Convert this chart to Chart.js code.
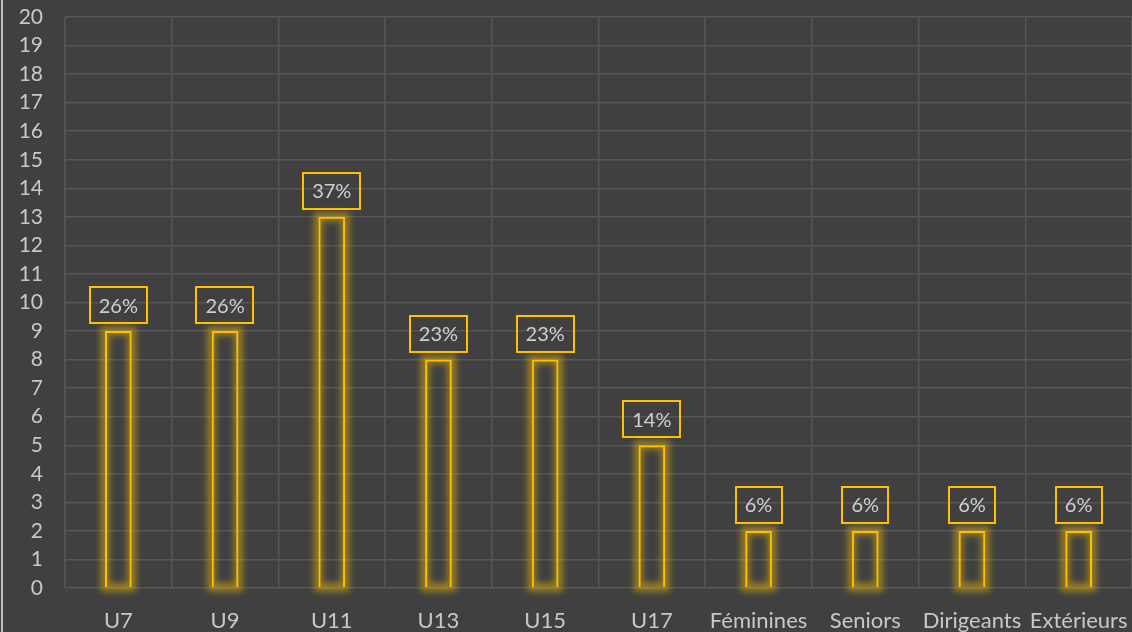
<!DOCTYPE html>
<html><head><meta charset="utf-8">
<script src="https://cdn.jsdelivr.net/npm/chart.js@4.4.0/dist/chart.umd.min.js"></script>
<style>
html,body{margin:0;padding:0;background:#404040;}
#wrap{position:relative;width:1132px;height:632px;}
#wrap:before{content:"";position:absolute;left:1px;top:0;width:2px;height:632px;background:#bfbfbf;}
canvas{display:block;}
</style></head>
<body><div id="wrap"><canvas id="c" width="1132" height="632"></canvas></div>
<script>
const categories = ["U7","U9","U11","U13","U15","U17","Féminines","Seniors","Dirigeants","Extérieurs"];
const counts = [9,9,13,8,8,5,2,2,2,2];
const percentLabels = ["26%","26%","37%","23%","23%","14%","6%","6%","6%","6%"];
const FONT = "Lato";
const YELLOW = "#FFC000";

const glowPlugin = {
  id:'glow',
  beforeDatasetDraw(chart){
    const ctx=chart.ctx; const meta=chart.getDatasetMeta(0);
    ctx.save();
    ctx.filter='blur(3px)';
    ctx.strokeStyle='rgba(255,200,0,0.45)';
    ctx.lineWidth=9;
    meta.data.forEach(bar=>{
      const w=bar.width, left=bar.x-w/2, top=bar.y, h=bar.base-bar.y;
      ctx.strokeRect(left, top, w, h);
    });
    ctx.restore();
  }
};
const labelPlugin = {
  id:'boxLabels',
  afterDatasetsDraw(chart){
    const ctx=chart.ctx; const meta=chart.getDatasetMeta(0);
    ctx.save();
    ctx.font = "20px " + FONT;
    ctx.textAlign='center'; ctx.textBaseline='middle';
    meta.data.forEach((bar,i)=>{
      const txt=percentLabels[i];
      const w = ctx.measureText(txt).width + 18;
      const h = 36;
      const cx = bar.x, bottom = bar.y - 8;
      ctx.strokeStyle=YELLOW; ctx.lineWidth=2;
      ctx.strokeRect(Math.round(cx - w/2), Math.round(bottom-h), Math.round(w), h);
      ctx.fillStyle='#d0d0d0';
      ctx.fillText(txt, cx, bottom - h/2 + 1);
    });
    ctx.restore();
  }
};

new Chart(document.getElementById('c'), {
  type:'bar',
  data:{ labels:categories, datasets:[{ data:counts, backgroundColor:'rgba(0,0,0,0)', borderColor:YELLOW, borderWidth:2, categoryPercentage:1, barPercentage:0.25 }]},
  options:{
    responsive:false, animation:false, devicePixelRatio:1,
    layout:{ padding:{ top:17, right:0, left:0, bottom:0 } },
    plugins:{ legend:{display:false}, tooltip:{enabled:false} },
    scales:{
      x:{ grid:{ color:'#575757', lineWidth:1.5, drawTicks:false, offset:true }, border:{display:false},
          ticks:{ color:'#c8c8c8', font:{family:FONT, size:22}, padding:20, maxRotation:0, autoSkip:false },
          afterFit(s){ s.height = 44; s.paddingLeft=0; s.paddingRight=0; } },
      y:{ min:0, max:20, grid:{ color:'#575757', lineWidth:1.5, drawTicks:false }, border:{display:false},
          ticks:{ stepSize:1, color:'#c8c8c8', font:{family:FONT, size:21}, padding:22 },
          afterFit(s){ s.width = 65; s.paddingTop=0; s.paddingBottom=0; } }
    }
  },
  plugins:[glowPlugin, labelPlugin]
});
</script></body></html>
